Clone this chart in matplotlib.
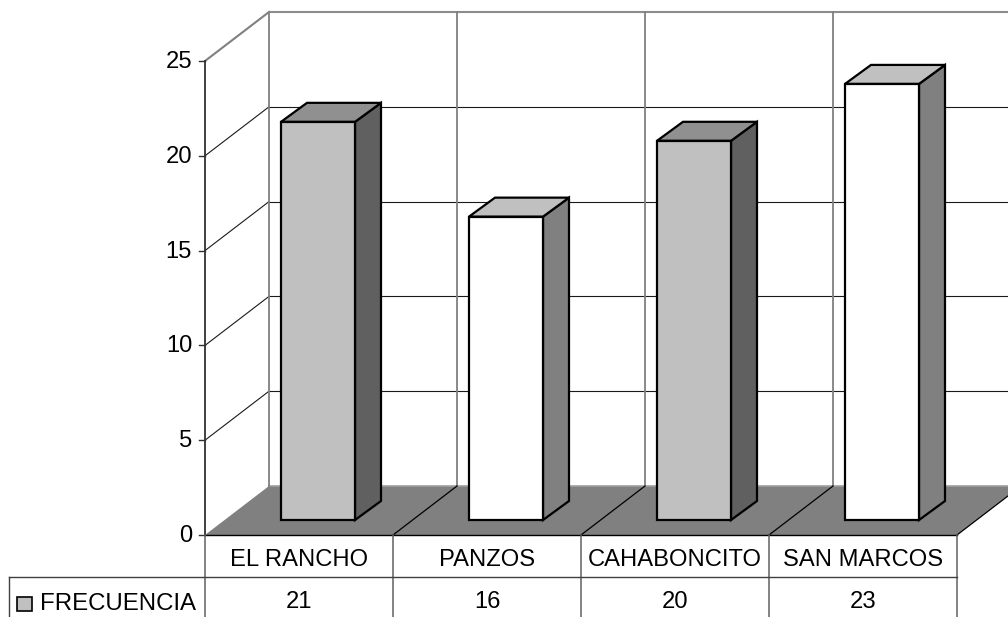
import matplotlib
matplotlib.use("Agg")
import matplotlib.pyplot as plt
from matplotlib.patches import Polygon, Rectangle

categories = ["EL RANCHO", "PANZOS", "CAHABONCITO", "SAN MARCOS"]
frecuencia = [21, 16, 20, 23]
y_ticks = [0, 5, 10, 15, 20, 25]
series_name = "FRECUENCIA"

plt.rcParams["font.family"] = ["Liberation Sans", "DejaVu Sans"]

# the whole 3D box is laid out in pixel space, y pointing down
fig = plt.figure(figsize=(10.08, 6.17), dpi=100)
ax = fig.add_axes([0, 0, 1, 1])
ax.set_xlim(0, 1008)
ax.set_ylim(617, 0)
ax.axis("off")

x0, y0 = 205, 535
cat_w = 188
unit = 18.96
depth_x, depth_y = 64, 49
right = x0 + cat_w * len(categories)
text_size = 17.1


def val_y(v):
    return y0 - v * unit


# floor
ax.add_patch(Polygon([(x0, y0), (right, y0), (right + depth_x, y0 - depth_y), (x0 + depth_x, y0 - depth_y)],
                     closed=True, facecolor="#808080", edgecolor="none", zorder=1))
ax.plot([x0 + depth_x, 1008], [y0 - depth_y] * 2, color="#a0a0a0", lw=1.2, zorder=1.5)

# back wall grid and side wall diagonals
for v in y_ticks[1:]:
    y = val_y(v)
    top = v == y_ticks[-1]
    ax.plot([x0, x0 + depth_x], [y, y - depth_y], color="#808080" if top else "#1a1a1a",
            lw=1.5 if top else 0.8, zorder=2)
    ax.plot([x0 + depth_x, 1008], [y - depth_y] * 2, color="#8c8c8c" if top else "#1a1a1a",
            lw=1.5 if top else 0.8, zorder=2)

for i in range(len(categories)):
    x = x0 + depth_x + i * cat_w
    ax.plot([x, x], [val_y(y_ticks[-1]) - depth_y, y0 - depth_y], color="#808080", lw=1.3, zorder=2)

# floor dividers and front edge
for i in range(1, len(categories) + 1):
    x = x0 + i * cat_w
    ax.plot([x, x + depth_x], [y0, y0 - depth_y], color="black", lw=0.9, zorder=3)
ax.plot([x0, right], [y0, y0], color="black", lw=1.0, zorder=3)

# value axis
ax.plot([x0, x0], [val_y(y_ticks[-1]), y0], color="#303030", lw=1.3, zorder=3)
for v in y_ticks:
    y = val_y(v)
    ax.plot([x0 - 6, x0], [y, y], color="#303030", lw=1.0, zorder=3)
    ax.text(x0 - 13, y - 1.5, str(v), ha="right", va="center_baseline", fontsize=text_size, color="black")

# bars, shaded alternately
bar_w = 74
bar_inset = 76
front_shift_y = 15
side_x, side_y = 26, 19
front_cols = ["#c0c0c0", "white"]
top_cols = ["#909090", "#c0c0c0"]
side_cols = ["#606060", "#808080"]
for i, v in enumerate(frecuencia):
    left = x0 + i * cat_w + bar_inset
    base = y0 - front_shift_y
    top = base - v * unit
    c = i % 2
    style = dict(edgecolor="black", lw=1.6, joinstyle="miter", zorder=4)
    ax.add_patch(Polygon([(left + bar_w, base), (left + bar_w + side_x, base - side_y),
                          (left + bar_w + side_x, top - side_y), (left + bar_w, top)],
                         closed=True, facecolor=side_cols[c], **style))
    ax.add_patch(Polygon([(left, top), (left + bar_w, top), (left + bar_w + side_x, top - side_y),
                          (left + side_x, top - side_y)],
                         closed=True, facecolor=top_cols[c], **style))
    ax.add_patch(Rectangle((left, top), bar_w, base - top, facecolor=front_cols[c], **style))

# data table underneath
row1, row2 = 577, 617
for i in range(len(categories) + 1):
    x = x0 + i * cat_w
    ax.plot([x, x], [y0, row2], color="#606060", lw=1.1, zorder=3)
ax.plot([9, right], [row1, row1], color="#404040", lw=1.0, zorder=3)
ax.plot([9, 9], [row1, row2], color="#404040", lw=1.0, zorder=3)
for i, (name, v) in enumerate(zip(categories, frecuencia)):
    cx = x0 + (i + 0.5) * cat_w
    ax.text(cx, 557, name, ha="center", va="center_baseline", fontsize=text_size, color="black")
    ax.text(cx, 600, str(v), ha="center", va="center_baseline", fontsize=text_size, color="black")

ax.add_patch(Rectangle((17, 597), 15, 14, facecolor="#c0c0c0", edgecolor="black", lw=1.2, zorder=4))
ax.text(40, 601, series_name, ha="left", va="center_baseline", fontsize=text_size + 0.2, color="black")

fig.savefig("out.png", dpi=100)
